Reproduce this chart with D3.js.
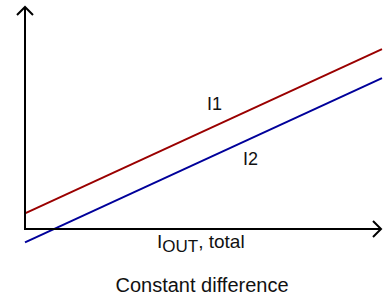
<!DOCTYPE html>
<html>
<head>
<meta charset="utf-8">
<script src="https://cdn.jsdelivr.net/npm/d3@7"></script>
<style>
  body { margin: 0; background: #fff; }
  text { font-family: "Liberation Sans", Arial, sans-serif; fill: #111; }
</style>
</head>
<body>
<svg width="385" height="298"></svg>
<script>
// data: two currents vs total output current, constant offset between them
const xVals = [0, 1];
const i1Vals = [0.07, 0.81];
const i2Vals = [-0.06, 0.68];
const seriesNames = ['I1', 'I2'];

const svg = d3.select('svg');

const x = d3.scaleLinear().domain([0, 1]).range([25, 382]);
const y = d3.scaleLinear().domain([0, 1]).range([229, 7]);

// data lines
const line = d3.line()
    .x(function (d) { return x(d[0]); })
    .y(function (d) { return y(d[1]); });

const series = [
    { name: seriesNames[0], color: '#9a0000', pts: d3.zip(xVals, i1Vals) },
    { name: seriesNames[1], color: '#00009a', pts: d3.zip(xVals, i2Vals) }
];

svg.selectAll('.series')
    .data(series)
    .enter()
    .append('path')
    .attr('class', 'series')
    .attr('d', function (d) { return line(d.pts); })
    .style('fill', 'none')
    .style('stroke', function (d) { return d.color; })
    .style('stroke-width', 2);

// axes with open arrowheads
const axisG = svg.append('g')
    .style('fill', 'none')
    .style('stroke', '#000')
    .style('stroke-width', 2)
    .style('stroke-linejoin', 'miter');

axisG.append('path')
    .attr('d', `M${x(0)},${y(0)}V${y(1)}`);
axisG.append('path')
    .attr('d', `M${x(0) - 8},${y(1) + 8}L${x(0)},${y(1)}L${x(0) + 8},${y(1) + 8}`);

axisG.append('path')
    .attr('d', `M${x(0) - 1},${y(0)}H${x(1) - 1}`);
axisG.append('path')
    .attr('d', `M${x(1) - 9},${y(0) - 8}L${x(1) - 1},${y(0)}L${x(1) - 9},${y(0) + 8}`);

// series labels
svg.append('text')
    .attr('x', 207)
    .attr('y', 110)
    .style('font-size', '18px')
    .text(seriesNames[0]);

svg.append('text')
    .attr('x', 243)
    .attr('y', 165)
    .style('font-size', '18px')
    .text(seriesNames[1]);

// x axis label with subscript
const xl = svg.append('text')
    .attr('x', 157)
    .attr('y', 248)
    .style('font-size', '19px');
xl.append('tspan').text('I');
xl.append('tspan').attr('dy', 4).style('font-size', '17px').text('OUT');
xl.append('tspan').attr('dy', -4).text(', total');

svg.append('text')
    .attr('x', 202)
    .attr('y', 292)
    .style('font-size', '20px')
    .style('text-anchor', 'middle')
    .text('Constant difference');
</script>
</body>
</html>
